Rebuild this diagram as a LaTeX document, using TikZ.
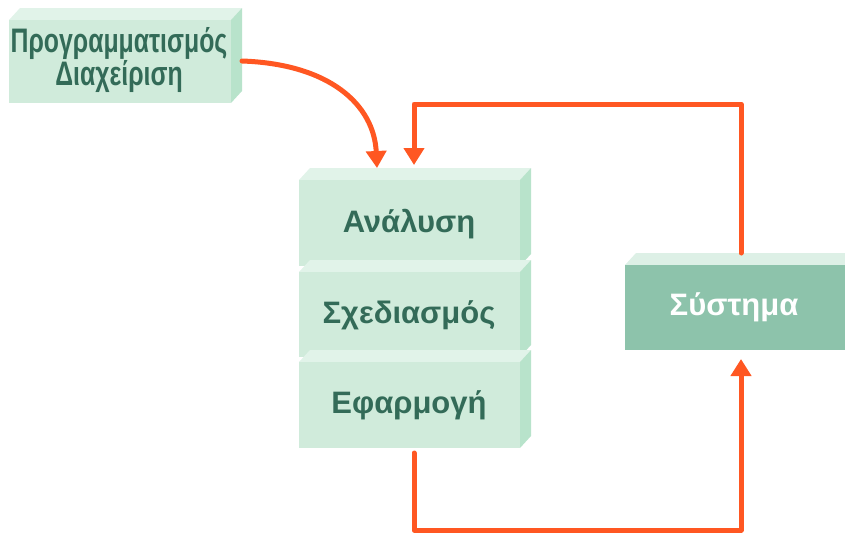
\documentclass[tikz,border=0pt]{standalone}
\usepackage{fontspec}
\setmainfont{Liberation Sans}
\usetikzlibrary{arrows.meta}
\definecolor{txtgreen}{HTML}{336B58}
\definecolor{facefront}{HTML}{D0EBDB}
\definecolor{facetop}{HTML}{E1F3E9}
\definecolor{faceside}{HTML}{B8E3CB}
\definecolor{sysfront}{HTML}{8DC3AB}
\definecolor{systop}{HTML}{DDF0E6}
\definecolor{flow}{HTML}{FF5722}
\tikzset{
  flowline/.style={draw=flow, line width=5pt, line cap=round, line join=round},
  flowarrow/.style={flowline, -{Triangle[width=20pt,length=17pt]}},
  boxlabel/.style={text=txtgreen, anchor=base, font=\fontsize{31}{34}\selectfont\bfseries},
  planlabel/.style={text=txtgreen, align=center, xscale=0.73, inner sep=0pt,
    font=\fontsize{34}{29}\selectfont\bfseries},
}
% Draws a block with a lighter top face and a darker right face.
% #1 left, #2 top, #3 right, #4 bottom (front face), #5 front colour, #6 top colour
\newcommand{\slab}[6]{%
  \fill[#6] (#1,#2) -- (#1+11,#2-12) -- (#3+11,#2-12) -- (#3,#2) -- cycle;
  \fill[faceside] (#3,#2) -- (#3+11,#2-12) -- (#3+11,#4-12) -- (#3,#4) -- cycle;
  \fill[#5] (#1,#2) rectangle (#3,#4);
}
\begin{document}
\begin{tikzpicture}[x=1pt,y=-1pt]
\useasboundingbox (0,0) rectangle (845,536);

% planning / management block
\slab{9}{20}{231}{103}{facefront}{facetop}
\node[planlabel] (plan) at (119,60) {Προγραμματισμός\\Διαχείριση};
\coordinate (planout) at (242,61);

% development stages stack
\slab{299}{180}{520}{266}{facefront}{facetop}
\node[boxlabel] (anal) at (409,232) {Ανάλυση};
\slab{299}{272}{520}{357}{facefront}{facetop}
\node[boxlabel] (design) at (409,323) {Σχεδιασμός};
\slab{299}{362}{520}{448}{facefront}{facetop}
\node[boxlabel] (impl) at (409,413) {Εφαρμογή};

% system block
\fill[systop] (625,265) -- (636,253) -- (845,253) -- (845,265) -- cycle;
\fill[sysfront] (625,265) rectangle (845,350);
\node[text=white, anchor=base, font=\fontsize{31}{34}\selectfont\bfseries] (sys) at (734,315) {Σύστημα};

% connector anchors
\coordinate (stackinA) at (377,168);
\coordinate (stackinB) at (414,165);
\coordinate (stackout) at (414,453);
\coordinate (systop) at (741,253);
\coordinate (sysbot) at (741,359);
\coordinate (feedcorner) at (741,104);
\coordinate (outcorner) at (741,530);

% planning feeds the analysis stage
\draw[flowarrow] (planout) .. controls (330,64) and (374,105) .. (stackinA);
% feedback from the system back into the stack
\draw[flowarrow] (systop) -- (feedcorner) -| (stackinB);
% implementation delivers the system
\draw[flowarrow] (stackout) |- (outcorner) -- (sysbot);
\end{tikzpicture}
\end{document}
